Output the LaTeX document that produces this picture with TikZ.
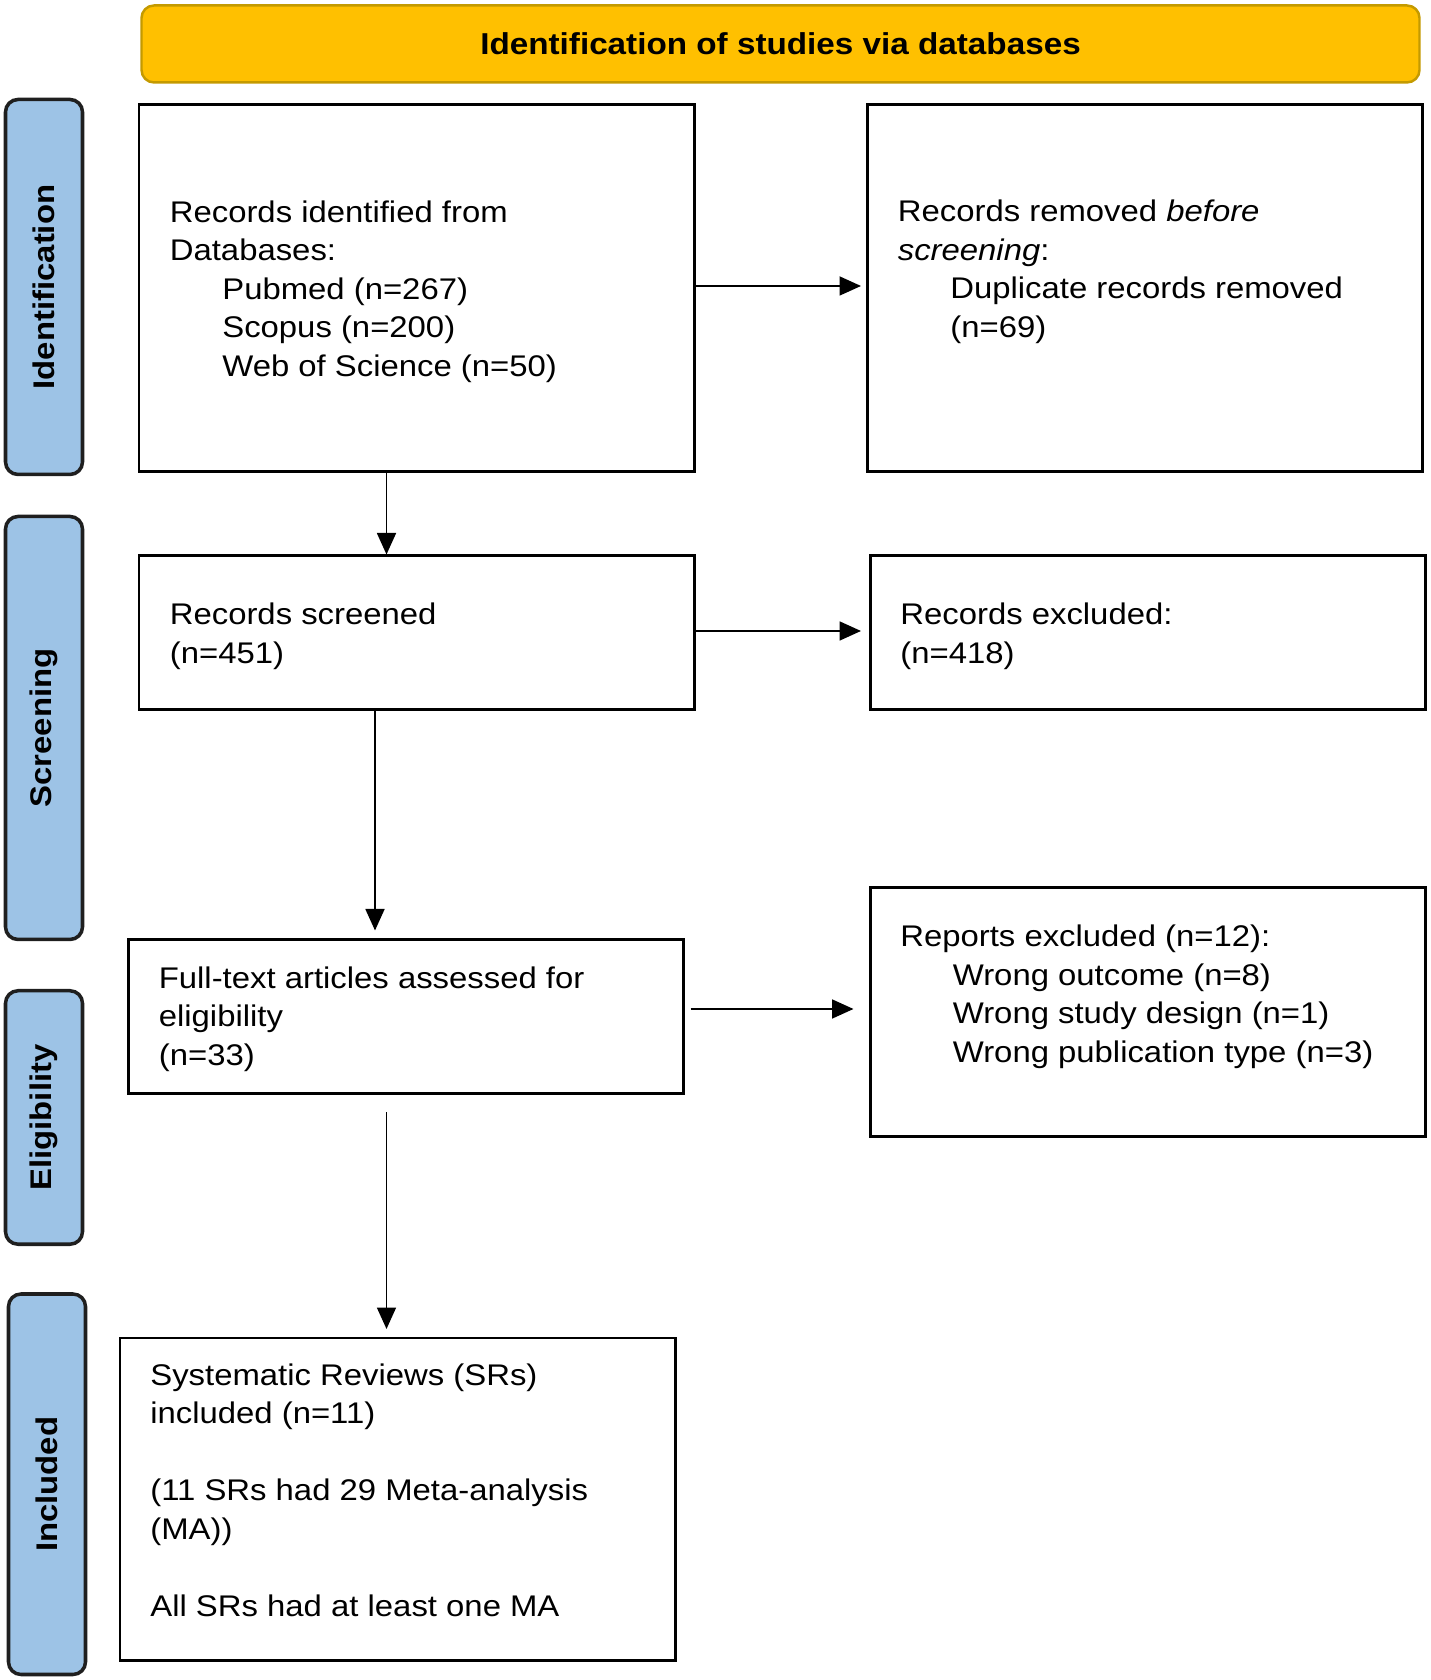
\documentclass[tikz,border=0pt]{standalone}
\usepackage{fontspec}
\setmainfont{Liberation Sans}[FakeStretch=1.1]
\usepackage{xcolor}
\usetikzlibrary{arrows.meta}

\definecolor{bannergold}{HTML}{FFC000}
\definecolor{bannerline}{HTML}{C49A00}
\definecolor{phaseblue}{HTML}{9DC3E6}
\definecolor{phaseline}{HTML}{1F1F1F}
\newcommand{\dbindent}{\hspace*{1.05cm}}

\begin{document}
\begin{tikzpicture}[
    box/.style={draw, line width=1.7pt, minimum width=11.1cm, inner sep=0pt},
    phase/.style={draw=phaseline, fill=phaseblue, line width=2pt, rounded corners=0.25cm, rotate=90, minimum height=1.54cm, inner sep=0pt, font=\fontsize{17}{21.9}\selectfont\bfseries},
    txt/.style={align=left, anchor=west, inner sep=0pt, font=\fontsize{17}{21.9}\selectfont},
    arr/.style={-{Triangle[length=0.43cm, width=0.38cm]}, line width=1pt}
]
    \useasboundingbox (0,0) rectangle (28.6,33.6);

    % Banner
    \node[draw=bannerline, fill=bannergold, line width=1.4pt, rounded corners=0.25cm, minimum width=25.56cm, minimum height=1.54cm, font=\fontsize{17.2}{21.9}\selectfont\bfseries] (banner) at (15.61,32.72) {Identification of studies via databases};

    % Phase labels
    \node[phase, minimum width=7.5cm] (pident) at (0.88,27.86) {Identification};
    \node[phase, minimum width=8.46cm] (pscreen) at (0.88,19.04) {Screening};
    \node[phase, minimum width=5.07cm] (pelig) at (0.88,11.25) {Eligibility};
    \node[phase, minimum width=7.61cm] (pincl) at (0.94,3.915) {Included};

    % Boxes
    \node[box, minimum height=7.33cm] (ident) at (8.33,27.84) {};
    \node[box, minimum height=7.33cm] (removed) at (22.90,27.84) {};
    \node[box, minimum height=3.08cm] (screened) at (8.33,20.94) {};
    \node[box, minimum height=3.08cm] (excluded) at (22.95,20.94) {};
    \node[box, minimum height=3.08cm] (fulltext) at (8.12,13.27) {};
    \node[box, minimum height=4.97cm] (reports) at (22.95,13.355) {};
    \node[box, minimum height=6.45cm] (included) at (7.95,3.615) {};

    % Box texts
    \node[txt] (identtxt) at (3.39,27.77) {Records identified from\\Databases:\\\dbindent Pubmed (n=267)\\\dbindent Scopus (n=200)\\\dbindent Web of Science (n=50)};
    \node[txt] (removedtxt) at (17.95,28.16) {Records removed \textit{before}\\\textit{screening}:\\\dbindent Duplicate records removed\\\dbindent (n=69)};
    \node[txt] (screenedtxt) at (3.39,20.87) {Records screened\\(n=451)};
    \node[txt] (excludedtxt) at (18.00,20.87) {Records excluded:\\(n=418)};
    \node[txt] (fulltexttxt) at (3.17,13.22) {Full-text articles assessed for\\eligibility\\(n=33)};
    \node[txt] (reportstxt) at (18.00,13.66) {Reports excluded (n=12):\\\dbindent Wrong outcome (n=8)\\\dbindent Wrong study design (n=1)\\\dbindent Wrong publication type (n=3)};
    \node[txt] (includedtxt) at (3.00,3.80) {Systematic Reviews (SRs)\\included (n=11)\\[0.771cm](11 SRs had 29 Meta-analysis\\(MA))\\[0.771cm]All SRs had at least one MA};

    % Arrows
    \draw[arr, shorten >=0.1cm] ([yshift=0.04cm]ident.east) -- ([yshift=0.04cm]removed.west);
    \draw[arr] ([xshift=-0.6cm]ident.south) -- ([xshift=-0.6cm]screened.north);
    \draw[arr, shorten >=0.15cm] ([yshift=0.04cm]screened.east) -- ([yshift=0.04cm]excluded.west);
    \draw[arr, shorten >=0.15cm] ([xshift=-0.83cm]screened.south) -- ([xshift=-0.62cm]fulltext.north);
    \draw[arr, shorten <=0.11cm, shorten >=0.3cm] ([yshift=0.15cm]fulltext.east) -- ([yshift=0.065cm]reports.west);
    \draw[arr, shorten <=0.35cm, shorten >=0.15cm] ([xshift=-0.39cm]fulltext.south) -- ([xshift=-0.22cm]included.north);
\end{tikzpicture}
\end{document}
